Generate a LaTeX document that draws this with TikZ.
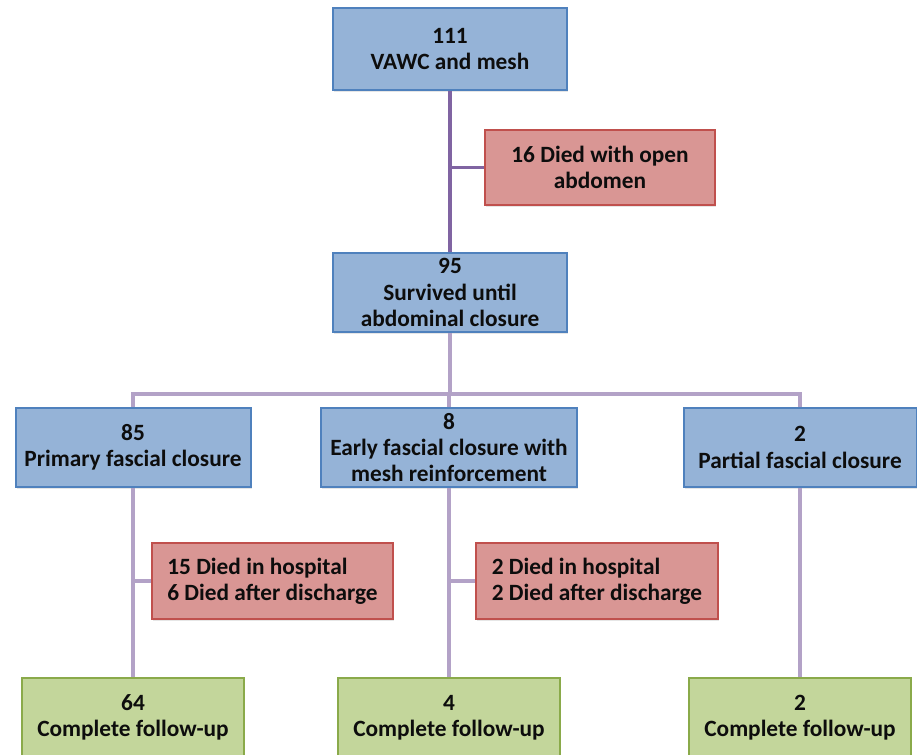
\documentclass[tikz,border=0pt]{standalone}
\usepackage{fontspec}
\setmainfont{Carlito}
\usetikzlibrary{shadows}

\definecolor{bluefill}{HTML}{95B3D7}
\definecolor{blueline}{HTML}{4F81BD}
\definecolor{redfill}{HTML}{D99694}
\definecolor{redline}{HTML}{C0504D}
\definecolor{greenfill}{HTML}{C3D69B}
\definecolor{greenline}{HTML}{8AAA4A}
\definecolor{purpleline}{HTML}{8064A2}
\definecolor{lilacline}{HTML}{B3A2C7}

\begin{document}
\begin{tikzpicture}[
    x=0.75pt, y=-0.75pt,
    box/.style={rectangle, draw, line width=1.5pt, text centered, align=center, inner sep=0pt,
        font=\fontsize{17.5}{19.8}\selectfont\bfseries, text=black!95,
        drop shadow={opacity=0.2, shadow xshift=1pt, shadow yshift=-1.2pt}},
    stage/.style={box, fill=bluefill, draw=blueline, minimum height=59.25pt},
    death/.style={box, fill=redfill, draw=redline, minimum height=57pt},
    followup/.style={box, fill=greenfill, draw=greenline, minimum width=166.5pt, minimum height=59.25pt},
    mainlink/.style={draw=purpleline, line width=2.4pt},
    link/.style={draw=lilacline, line width=2.6pt}
]
\clip (0,0) rectangle (917,755);

% Boxes
\node[stage, minimum width=175.5pt, minimum height=61.5pt] (total) at (450,49) {111\\VAWC and mesh};
\node[death, minimum width=172.5pt, minimum height=56.25pt] (openab) at (600,167.5) {16 Died with open\\abdomen};
\node[stage, minimum width=175.5pt] (survived) at (450,292.5) {95\\Survived until\\abdominal closure};

\node[stage, minimum width=176.25pt] (primary) at (133,447.5) {85\\Primary fascial closure};
\node[stage, minimum width=192pt] (early) at (449,447.5) {8\\Early fascial closure with\\mesh reinforcement};
\node[stage, minimum width=174.75pt] (partial) at (800,447.5) {2\\Partial fascial closure};

\node[death, minimum width=180.75pt, align=left] (diedA) at (272.5,581) {15 Died in hospital\\6 Died after discharge};
\node[death, minimum width=181.5pt, align=left] (diedB) at (597,581) {2 Died in hospital\\2 Died after discharge};

\node[followup] (fupA) at (133,717.5) {64\\Complete follow-up};
\node[followup] (fupB) at (449,717.5) {4\\Complete follow-up};
\node[followup] (fupC) at (800,717.5) {2\\Complete follow-up};

% Connectors
\coordinate (split) at (450,394);
\draw[mainlink] (total) -- (survived);
\draw[mainlink] (total.south |- openab.west) -- (openab.west);

\draw[link] (survived) -- (split);
\draw[link] (primary.north) -- (primary.north |- split) -- (partial.north |- split) -- (partial.north);
\draw[link] (early.north |- split) -- (early.north);

\draw[link] (primary) -- (fupA);
\draw[link] (early) -- (fupB);
\draw[link] (partial) -- (fupC);
\draw[link] (primary.south |- diedA.west) -- (diedA.west);
\draw[link] (early.south |- diedB.west) -- (diedB.west);

\end{tikzpicture}
\end{document}
